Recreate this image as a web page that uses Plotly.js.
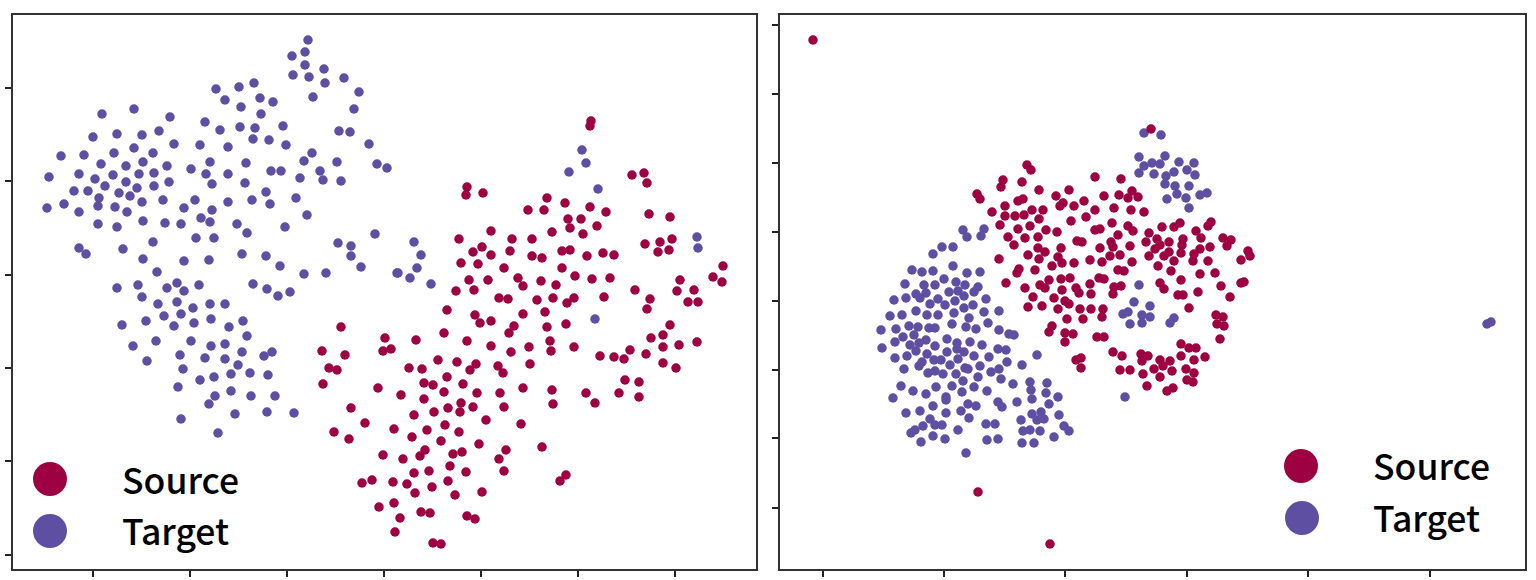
<!DOCTYPE html>
<html>
<head>
<meta charset="utf-8">
<script src="https://cdn.plot.ly/plotly-3.0.1.min.js"></script>
<style>html,body{margin:0;padding:0;background:#fff}</style>
</head>
<body>
<div id="chart" style="width:1536px;height:580px"></div>
<script>
// t-SNE embeddings have no meaningful unit, so points are read off the picture in picture units
const leftTarget = [[308,40],[305,52],[292,56],[305,65],[324,69],[293,75],[309,77],[325,83],[344,78],[359,92],[313,97],[354,109],[216,89],[239,87],[254,83],[225,100],[260,98],[273,102],[241,107],[261,114],[134,109],[102,114],[170,117],[205,122],[240,127],[255,128],[283,126],[220,130],[159,131],[117,134],[142,135],[93,137],[253,139],[269,140],[339,131],[350,132],[174,144],[200,145],[228,147],[286,145],[369,144],[134,148],[114,153],[153,153],[61,156],[84,155],[312,153],[143,162],[101,164],[126,166],[167,166],[210,162],[246,163],[304,161],[337,162],[377,164],[387,168],[191,169],[49,177],[79,174],[113,175],[139,174],[154,173],[206,174],[228,174],[271,171],[281,171],[320,171],[95,179],[300,178],[323,180],[341,181],[126,182],[169,182],[212,184],[245,183],[105,186],[137,188],[154,186],[74,191],[88,191],[119,193],[130,196],[266,192],[99,198],[296,198],[47,208],[64,204],[98,206],[115,207],[142,202],[163,200],[195,200],[228,202],[252,200],[270,204],[184,208],[212,210],[79,212],[127,212],[307,215],[98,224],[117,227],[143,221],[165,223],[181,224],[201,218],[210,222],[237,224],[285,227],[247,233],[196,238],[214,238],[375,234],[153,242],[338,243],[351,246],[79,248],[86,254],[123,249],[242,254],[143,259],[184,261],[209,260],[266,256],[351,256],[280,266],[361,267],[157,272],[304,274],[326,273],[397,273],[117,288],[138,285],[167,288],[177,283],[184,291],[199,285],[253,284],[267,289],[290,292],[278,296],[142,297],[158,304],[177,302],[193,308],[210,304],[225,304],[164,316],[181,314],[211,319],[243,321],[146,321],[122,325],[174,326],[194,323],[229,327],[247,336],[156,341],[191,341],[133,346],[211,346],[225,344],[242,352],[272,352],[264,356],[180,355],[205,358],[225,359],[147,361],[238,365],[183,369],[231,374],[250,373],[268,375],[214,377],[200,380],[178,387],[231,391],[215,396],[251,396],[275,396],[209,404],[235,414],[267,412],[294,413],[181,419],[218,433],[582,150],[586,163],[569,172],[598,189],[414,242],[421,255],[417,268],[398,273],[410,278],[431,284],[697,237],[698,248],[595,319]];

const leftSource = [[591,121],[590,126],[632,175],[644,173],[647,183],[467,187],[466,195],[483,193],[547,198],[565,203],[528,210],[544,210],[590,207],[606,212],[649,214],[670,217],[568,219],[581,219],[597,226],[570,228],[491,231],[552,232],[583,234],[512,239],[532,239],[459,239],[672,239],[645,244],[660,242],[482,247],[473,252],[510,251],[562,251],[570,250],[658,252],[669,250],[491,255],[532,256],[542,258],[587,256],[603,253],[614,255],[461,263],[478,264],[723,266],[504,268],[562,268],[713,277],[469,280],[488,280],[518,278],[575,276],[592,279],[610,278],[722,282],[523,286],[541,281],[556,285],[680,280],[456,291],[474,290],[635,290],[677,291],[694,290],[499,298],[508,299],[537,300],[553,298],[574,298],[604,297],[650,299],[567,303],[688,302],[698,302],[447,310],[647,309],[475,315],[523,314],[545,312],[480,323],[491,321],[514,326],[547,327],[566,324],[670,325],[509,333],[444,333],[663,335],[651,338],[385,338],[416,340],[467,341],[550,341],[697,342],[341,327],[679,345],[663,347],[491,346],[529,347],[574,347],[322,351],[383,351],[391,349],[345,355],[511,352],[551,351],[600,356],[614,357],[630,350],[624,359],[646,354],[438,360],[457,362],[476,364],[530,364],[498,366],[503,373],[470,370],[663,363],[676,368],[329,368],[337,370],[409,368],[422,369],[447,377],[625,380],[639,382],[323,384],[424,383],[433,385],[463,384],[378,388],[523,388],[552,390],[444,392],[477,393],[500,393],[586,393],[619,393],[401,395],[639,397],[595,403],[424,399],[461,403],[553,404],[351,408],[448,408],[473,407],[504,407],[434,412],[460,412],[414,415],[486,420],[365,423],[445,425],[521,424],[394,429],[427,430],[459,432],[334,432],[349,439],[412,437],[441,441],[479,444],[542,447],[425,450],[506,450],[462,452],[453,454],[383,455],[420,456],[403,459],[499,459],[450,466],[429,471],[414,473],[466,472],[504,471],[566,475],[560,481],[372,480],[362,483],[393,482],[407,484],[448,481],[432,487],[415,493],[455,495],[482,492],[394,503],[379,507],[421,512],[430,513],[467,516],[475,519],[400,518],[395,532],[433,543],[441,544]];

const rightTarget = [[1144,133],[1161,135],[1139,157],[1165,156],[1152,163],[1144,166],[1160,164],[1179,162],[1194,163],[1139,173],[1154,174],[1174,172],[1187,170],[1166,176],[1195,175],[1165,184],[1175,186],[1189,186],[1177,194],[1200,195],[1207,193],[1167,199],[1186,198],[1189,208],[1139,285],[1134,302],[1150,306],[1128,312],[1123,314],[1142,315],[1150,317],[1174,318],[1170,323],[1130,324],[1142,323],[1037,355],[1022,365],[1030,382],[1047,383],[1031,390],[1046,393],[1032,399],[1058,397],[1049,404],[1125,397],[963,230],[984,229],[967,237],[981,236],[942,247],[953,247],[933,254],[953,266],[912,270],[922,272],[933,271],[967,273],[980,272],[905,284],[924,285],[935,285],[944,279],[956,282],[965,285],[978,287],[974,292],[949,292],[958,291],[916,294],[926,293],[964,296],[894,300],[906,298],[920,298],[938,299],[955,301],[986,299],[930,304],[945,305],[973,305],[964,308],[916,311],[954,313],[984,312],[999,311],[890,316],[902,315],[927,315],[938,315],[969,318],[881,330],[896,329],[909,326],[918,327],[929,328],[935,328],[952,324],[966,327],[976,329],[988,323],[999,330],[1009,334],[1014,335],[903,337],[914,335],[895,342],[926,340],[947,339],[970,342],[910,345],[919,343],[957,343],[935,346],[982,345],[882,348],[957,349],[916,351],[947,352],[964,352],[998,349],[1006,350],[927,354],[907,356],[895,358],[974,356],[989,357],[958,359],[934,360],[941,360],[922,362],[919,366],[1007,362],[950,365],[965,368],[968,369],[980,366],[904,369],[999,369],[991,372],[928,373],[935,371],[943,374],[956,374],[978,377],[1001,379],[963,381],[901,386],[936,387],[952,386],[974,387],[1013,384],[913,391],[987,391],[962,392],[926,394],[893,398],[946,397],[946,400],[1017,402],[998,402],[1002,407],[968,404],[976,406],[933,406],[906,413],[920,411],[946,413],[961,411],[1032,414],[1041,412],[1059,415],[969,418],[930,419],[1037,420],[1044,419],[1021,420],[935,425],[942,425],[923,426],[986,424],[995,424],[1064,426],[1069,431],[915,430],[911,433],[958,430],[1023,431],[1030,430],[1040,431],[933,436],[945,439],[921,442],[987,440],[998,439],[1022,443],[1034,443],[1054,437],[966,453],[1487,324],[1491,322]];

const rightSource = [[813,40],[978,492],[1050,544],[1151,129],[1027,165],[1031,170],[1095,177],[1121,179],[1003,180],[1001,187],[1022,182],[1039,190],[977,194],[980,199],[1056,196],[1069,190],[1104,196],[1119,195],[1132,191],[1128,198],[1138,197],[1084,201],[1018,201],[1023,199],[1063,203],[1060,206],[1074,206],[1005,206],[992,212],[1032,210],[1043,210],[1095,210],[1114,208],[1131,210],[1144,212],[1005,216],[1015,216],[1024,215],[1039,219],[1086,217],[1071,221],[1000,225],[1030,226],[1112,223],[1180,223],[1174,227],[1162,227],[1211,222],[1208,226],[1128,226],[1133,231],[1018,229],[1046,230],[1095,230],[1100,229],[1057,232],[1149,233],[1196,231],[1118,235],[1008,237],[1025,238],[1038,237],[1201,238],[1223,238],[1231,240],[1077,241],[1082,242],[1157,239],[1183,239],[1111,242],[1146,242],[1169,242],[1014,245],[1160,245],[1182,245],[1210,247],[1227,246],[1113,247],[1130,246],[1100,248],[1038,248],[1061,248],[1155,249],[1200,249],[1045,252],[1248,251],[1181,253],[1169,252],[1164,256],[1194,254],[1028,255],[1058,257],[1110,256],[1120,255],[1149,256],[1039,259],[1250,256],[999,259],[1241,260],[1174,261],[1193,261],[1208,261],[1090,260],[1132,262],[1102,262],[1062,263],[1074,263],[1052,266],[1158,266],[1035,270],[1019,269],[1017,273],[1118,270],[1124,271],[1171,271],[1200,274],[1215,273],[1061,279],[1070,278],[1099,278],[1104,279],[1049,280],[1181,280],[1006,283],[1025,288],[1040,285],[1045,288],[1090,284],[1114,287],[1121,286],[1160,283],[1164,289],[1221,286],[1244,282],[1241,283],[1062,290],[1076,288],[1079,293],[1091,294],[1113,294],[1198,292],[1178,295],[1183,295],[1230,297],[1033,297],[1054,298],[1065,301],[1069,304],[1042,306],[1028,307],[1058,309],[1080,309],[1091,309],[1103,309],[1189,308],[1102,317],[1067,319],[1083,319],[1216,315],[1223,317],[1217,324],[1224,326],[1052,326],[1049,332],[1065,333],[1073,334],[1065,342],[1097,337],[1104,337],[1220,339],[1181,344],[1189,348],[1196,348],[1113,352],[1122,356],[1141,354],[1148,356],[1142,361],[1081,358],[1076,360],[1081,368],[1160,360],[1170,361],[1181,356],[1194,360],[1205,357],[1163,366],[1120,370],[1130,370],[1154,369],[1172,371],[1186,369],[1143,374],[1194,373],[1160,377],[1187,380],[1193,382],[1147,386],[1173,388],[1167,391]];

const leftXTicks = [93, 190, 287, 384, 481, 578, 675];
const leftYTicks = [88, 181, 275, 368, 461, 555];
const rightXTicks = [823, 944, 1065, 1187, 1308, 1430];
const rightYTicks = [25, 94, 163, 232, 301, 370, 438, 508];

const SOURCE_COLOR = '#9E0142';
const TARGET_COLOR = '#5E4FA2';
const WIDTH = 1536;
const HEIGHT = 580;

function scatter(points, color, name, xaxis, yaxis) {
  return {
    x: points.map(p => p[0]),
    y: points.map(p => p[1]),
    xaxis,
    yaxis,
    name,
    type: 'scatter',
    mode: 'markers',
    marker: { color, size: 9.5, line: { width: 0 } },
    showlegend: false,
    hoverinfo: 'skip',
  };
}

function xAxis(left, right, ticks) {
  return {
    domain: [left / WIDTH, right / WIDTH],
    range: [left, right],
    tickmode: 'array',
    tickvals: ticks,
    showticklabels: false,
    ticks: 'outside',
    ticklen: 6,
    tickwidth: 1.2,
    tickcolor: '#222',
    showgrid: false,
    zeroline: false,
    showline: true,
    mirror: true,
    linecolor: '#333',
    linewidth: 2,
  };
}

function yAxis(top, bottom, ticks, anchor) {
  return {
    ...xAxis(0, 1, ticks),
    anchor,
    domain: [1 - bottom / HEIGHT, 1 - top / HEIGHT],
    range: [bottom, top],
  };
}

// legend is drawn by hand: a dot and a label in each panel
function legendDot(cx, cy, color, xref, yref) {
  return {
    type: 'circle', xref, yref,
    x0: cx - 17, x1: cx + 17, y0: cy - 17, y1: cy + 17,
    fillcolor: color, line: { width: 0 },
  };
}

function legendText(text, x, y, xref, yref) {
  return {
    text, x, y, xref, yref,
    xanchor: 'left', yanchor: 'middle', showarrow: false,
    font: { family: "'Noto Sans CJK SC', 'Noto Sans', sans-serif", size: 35.5, color: '#000', weight: 500 },
  };
}

const data = [
  scatter(leftTarget, TARGET_COLOR, 'Target', 'x', 'y'),
  scatter(leftSource, SOURCE_COLOR, 'Source', 'x', 'y'),
  scatter(rightTarget, TARGET_COLOR, 'Target', 'x2', 'y2'),
  scatter(rightSource, SOURCE_COLOR, 'Source', 'x2', 'y2'),
];

const layout = {
  width: WIDTH,
  height: HEIGHT,
  margin: { l: 0, r: 0, t: 0, b: 0 },
  paper_bgcolor: '#fff',
  plot_bgcolor: '#fff',
  xaxis: { ...xAxis(13, 756, leftXTicks), anchor: 'y' },
  yaxis: yAxis(15, 569, leftYTicks, 'x'),
  xaxis2: { ...xAxis(780, 1525, rightXTicks), anchor: 'y2' },
  yaxis2: yAxis(15, 569, rightYTicks, 'x2'),
  shapes: [
    legendDot(50, 479, SOURCE_COLOR, 'x', 'y'),
    legendDot(50, 531, TARGET_COLOR, 'x', 'y'),
    legendDot(1301, 466, SOURCE_COLOR, 'x2', 'y2'),
    legendDot(1302, 518, TARGET_COLOR, 'x2', 'y2'),
  ],
  annotations: [
    legendText('Source', 120, 478, 'x', 'y'),
    legendText('Target', 120, 529, 'x', 'y'),
    legendText('Source', 1371, 464, 'x2', 'y2'),
    legendText('Target', 1371, 516, 'x2', 'y2'),
  ],
};

Plotly.newPlot('chart', data, layout, { displayModeBar: false, staticPlot: true });
</script>
</body>
</html>
